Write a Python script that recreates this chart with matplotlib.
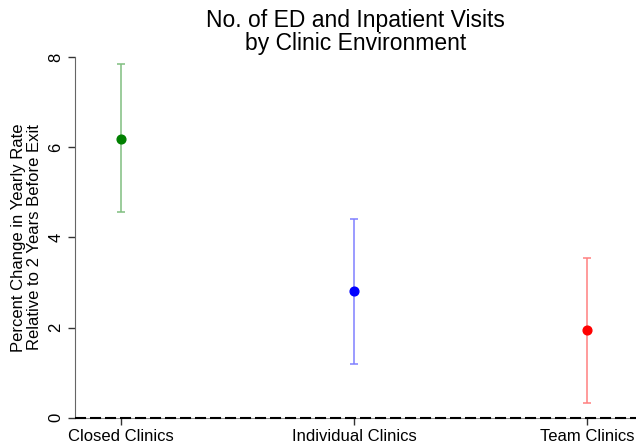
import numpy as np
import matplotlib.pyplot as plt

plt.rcParams['font.family'] = ['Liberation Sans', 'DejaVu Sans']

# values
clinics = ["Closed Clinics", "Individual Clinics", "Team Clinics"]
estimate = [6.19, 2.80, 1.94]
lower = [4.55, 1.18, 0.32]
upper = [7.84, 4.41, 3.54]
point_colors = ["#008000", "#0000ff", "#ff0000"]
line_colors = ["#80bf80", "#8080ff", "#ff8080"]
yticks = [0, 2, 4, 6, 8]

fig = plt.figure(figsize=(6.36, 4.47), dpi=100)
ax = fig.add_axes([74.7 / 636, 29.3 / 447, (636 - 74.7) / 636, (417.7 - 56.9) / 447])

xpos = np.arange(1, len(clinics) + 1)
for i in range(len(clinics)):
    err = [[estimate[i] - lower[i]], [upper[i] - estimate[i]]]
    ax.errorbar(xpos[i], estimate[i], yerr=err, fmt='none', ecolor=line_colors[i],
                elinewidth=1.1, capsize=3.1, capthick=1.1, zorder=2)
    ax.plot(xpos[i], estimate[i], 'o', color=point_colors[i], markersize=6.3, zorder=3)

# dashed reference line at zero
ax.axhline(0, color='black', lw=1.5, linestyle=(0, (5.3, 1.9)), clip_on=False, zorder=4)

ax.set_xlim(0.8, 3.21)
ax.set_ylim(0, 8)
ax.set_xticks(xpos)
ax.set_xticklabels(clinics, fontsize=12)
ax.set_yticks(yticks)
ax.set_yticklabels([str(t) for t in yticks], fontsize=12, rotation=90, va='center')

for s in ['top', 'right']:
    ax.spines[s].set_visible(False)
ax.spines['left'].set_color('#666666')
ax.spines['bottom'].set_color('#888888')
ax.tick_params(axis='both', length=5, width=1, color='#333333', pad=3)

ax.set_ylabel("Percent Change in Yearly Rate\nRelative to 2 Years Before Exit",
              fontsize=12, linespacing=1.05, labelpad=5)
ax.set_title("No. of ED and Inpatient Visits\nby Clinic Environment",
             fontsize=16.5, linespacing=1.0, pad=5)

fig.savefig("out.png", dpi=100)
